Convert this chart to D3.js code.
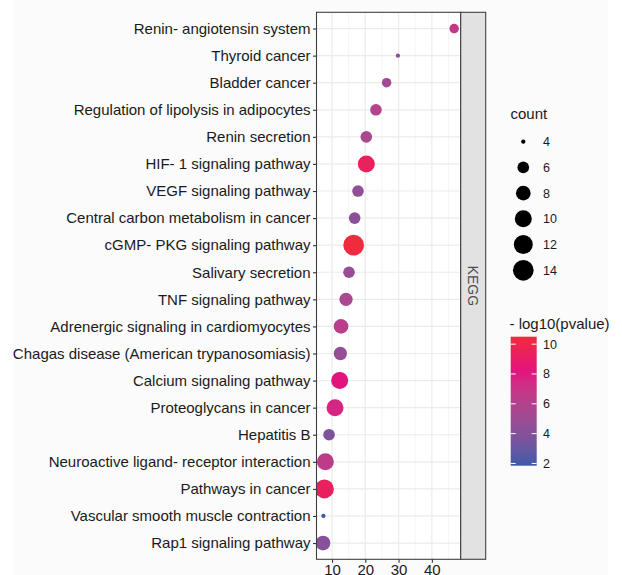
<!DOCTYPE html>
<html>
<head>
<meta charset="utf-8">
<script src="https://cdn.jsdelivr.net/npm/d3@7"></script>
<style>
  html, body { margin: 0; padding: 0; background: #ffffff; }
  svg { display: block; font-family: "Liberation Sans", Arial, Helvetica, sans-serif; }
</style>
</head>
<body>
<svg id="chart" width="622" height="575"></svg>
<script>
// KEGG pathway enrichment, top to bottom
const pathways = [
  "Renin- angiotensin system",
  "Thyroid cancer",
  "Bladder cancer",
  "Regulation of lipolysis in adipocytes",
  "Renin secretion",
  "HIF- 1 signaling pathway",
  "VEGF signaling pathway",
  "Central carbon metabolism in cancer",
  "cGMP- PKG signaling pathway",
  "Salivary secretion",
  "TNF signaling pathway",
  "Adrenergic signaling in cardiomyocytes",
  "Chagas disease (American trypanosomiasis)",
  "Calcium signaling pathway",
  "Proteoglycans in cancer",
  "Hepatitis B",
  "Neuroactive ligand- receptor interaction",
  "Pathways in cancer",
  "Vascular smooth muscle contraction",
  "Rap1 signaling pathway"
];
const enrichment = [46.7, 29.8, 26.4, 23.2, 20.3, 20.3, 17.8, 16.8, 16.5, 15.1,
                    14.2, 12.7, 12.5, 12.3, 10.9, 9.1, 8.0, 7.7, 7.4, 7.3];
const geneCount  = [5, 4, 5, 6, 6, 10, 6, 6, 14, 6,
                    7, 8, 7, 10, 10, 6, 10, 12, 4, 8];
const negLogP    = [6.6, 4.6, 5.3, 5.9, 5.6, 9.4, 4.5, 4.3, 10.5, 4.8,
                    5.5, 6.2, 4.7, 8.2, 7.6, 3.8, 6.4, 9.3, 1.85, 4.2];

const xTicks = [10, 20, 30, 40];
const countBreaks = [4, 6, 8, 10, 12, 14];
const pBreaks = [2, 4, 6, 8, 10];
const facetLabel = "KEGG";

const rows = pathways.map((p, i) => ({
  name: p, x: enrichment[i], count: geneCount[i], p: negLogP[i]
}));

const svg = d3.select("#chart");
const textColor = "#1a1a1a";
const font = "Liberation Sans, Arial, sans-serif";

// faint page background
svg.append("rect").attr("x", 13).attr("y", 0).attr("width", 595).attr("height", 575)
  .attr("fill", "#fbfbfb");

const panel = { left: 316.5, right: 460.7, top: 12.3, bottom: 559.3 };
const strip = { left: 460.7, right: 485.7 };

// scales
const xExt = d3.extent(enrichment);
const pad = (xExt[1] - xExt[0]) * 0.05;
const x = d3.scaleLinear().domain([xExt[0] - pad, xExt[1] + pad])
  .range([panel.left, panel.right]);
const y = d3.scalePoint().domain(pathways).range([panel.top, panel.bottom]).padding(0.6);

const cExt = d3.extent(geneCount);
const sizeSqrt = d3.scaleSqrt().domain([0, cExt[1] - cExt[0]]).range([0, 16.4]);
const diameter = c => 4.3 + sizeSqrt(c - cExt[0]);

const pExt = d3.extent(negLogP);
const color = d3.scaleLinear()
  .domain([pExt[0], 8.1, pExt[1]])
  .range(["#3a5ba9", "#e1127f", "#ef2b3d"])
  .interpolate(d3.interpolateLab);

// panel background and grid
svg.append("rect").attr("x", panel.left).attr("y", panel.top)
  .attr("width", panel.right - panel.left).attr("height", panel.bottom - panel.top)
  .attr("fill", "#ffffff");

svg.append("clipPath").attr("id", "panel-clip").append("rect")
  .attr("x", panel.left).attr("y", panel.top)
  .attr("width", panel.right - panel.left).attr("height", panel.bottom - panel.top);

const grid = svg.append("g");
const minorTicks = d3.range(5, 50, 10).filter(v => x(v) > panel.left && x(v) < panel.right);
grid.selectAll("line.minor").data(minorTicks).join("line")
  .attr("x1", d => x(d)).attr("x2", d => x(d))
  .attr("y1", panel.top).attr("y2", panel.bottom)
  .attr("stroke", "#f3f3f3").attr("stroke-width", 0.8);
grid.selectAll("line.majorx").data(xTicks).join("line")
  .attr("x1", d => x(d)).attr("x2", d => x(d))
  .attr("y1", panel.top).attr("y2", panel.bottom)
  .attr("stroke", "#ebebeb").attr("stroke-width", 1.2);
grid.selectAll("line.majory").data(pathways).join("line")
  .attr("x1", panel.left).attr("x2", panel.right)
  .attr("y1", d => y(d)).attr("y2", d => y(d))
  .attr("stroke", "#ebebeb").attr("stroke-width", 1.2);

// points
svg.append("g").attr("clip-path", "url(#panel-clip)")
  .selectAll("circle").data(rows).join("circle")
  .attr("cx", d => x(d.x)).attr("cy", d => y(d.name))
  .attr("r", d => diameter(d.count) / 2)
  .attr("fill", d => color(d.p));

// panel border
svg.append("rect").attr("x", panel.left).attr("y", panel.top)
  .attr("width", panel.right - panel.left).attr("height", panel.bottom - panel.top)
  .attr("fill", "none").attr("stroke", "#404040").attr("stroke-width", 1.1);

// facet strip
svg.append("rect").attr("x", strip.left).attr("y", panel.top)
  .attr("width", strip.right - strip.left).attr("height", panel.bottom - panel.top)
  .attr("fill", "#e2e2e2").attr("stroke", "#404040").attr("stroke-width", 1.1);
svg.append("text")
  .attr("transform", `translate(${(strip.left + strip.right) / 2},${(panel.top + panel.bottom) / 2}) rotate(90)`)
  .attr("text-anchor", "middle").attr("dy", "0.35em")
  .attr("font-size", 14).attr("fill", "#4d4d4d").text(facetLabel);

// axes
const yAxis = d3.axisLeft(y).tickSize(3.5).tickPadding(2.5);
const gy = svg.append("g").attr("transform", `translate(${panel.left},0)`).call(yAxis);
gy.select(".domain").remove();
gy.selectAll(".tick line").attr("stroke", "#333333").attr("stroke-width", 1.1);
gy.selectAll(".tick text").attr("font-size", 15).attr("fill", textColor)
  .attr("font-family", font);

const xAxis = d3.axisBottom(x).tickValues(xTicks).tickSize(3.5).tickPadding(2);
const gx = svg.append("g").attr("transform", `translate(0,${panel.bottom})`).call(xAxis);
gx.select(".domain").remove();
gx.selectAll(".tick line").attr("stroke", "#333333").attr("stroke-width", 1.1);
gx.selectAll(".tick text").attr("font-size", 15).attr("fill", textColor)
  .attr("font-family", font);

// size legend
const sizeLeg = svg.append("g");
sizeLeg.append("text").attr("x", 510.5).attr("y", 119).attr("font-size", 15)
  .attr("fill", textColor).text("count");
const keyY = d3.scalePoint().domain(countBreaks).range([141.7, 270.3]);
sizeLeg.selectAll("circle").data(countBreaks).join("circle")
  .attr("cx", 523.3).attr("cy", d => keyY(d)).attr("r", d => diameter(d) / 2)
  .attr("fill", "#000000");
sizeLeg.selectAll("text.lab").data(countBreaks).join("text").attr("class", "lab")
  .attr("x", 543).attr("y", d => keyY(d)).attr("dy", "0.35em")
  .attr("font-size", 12.5).attr("fill", textColor).text(d => d);

// colour bar legend
const bar = { x: 510.7, w: 26, top: 336.7, bottom: 465.7 };
const barY = d3.scaleLinear().domain(pExt).range([bar.bottom, bar.top]);
const colLeg = svg.append("g");
colLeg.append("text").attr("x", 509.5).attr("y", 329).attr("font-size", 15)
  .attr("fill", textColor).text("- log10(pvalue)");
const grad = svg.append("defs").append("linearGradient").attr("id", "pgrad")
  .attr("x1", 0).attr("x2", 0).attr("y1", 1).attr("y2", 0);
d3.range(0, 1.0001, 0.05).forEach(t => {
  grad.append("stop").attr("offset", t)
    .attr("stop-color", color(pExt[0] + t * (pExt[1] - pExt[0])));
});
colLeg.append("rect").attr("x", bar.x).attr("y", bar.top)
  .attr("width", bar.w).attr("height", bar.bottom - bar.top).attr("fill", "url(#pgrad)");
colLeg.selectAll("line.l").data(pBreaks).join("line")
  .attr("x1", bar.x).attr("x2", bar.x + 5)
  .attr("y1", d => barY(d)).attr("y2", d => barY(d))
  .attr("stroke", "#ffffff").attr("stroke-width", 1);
colLeg.selectAll("line.r").data(pBreaks).join("line")
  .attr("x1", bar.x + bar.w - 5).attr("x2", bar.x + bar.w)
  .attr("y1", d => barY(d)).attr("y2", d => barY(d))
  .attr("stroke", "#ffffff").attr("stroke-width", 1);
colLeg.selectAll("text.lab").data(pBreaks).join("text").attr("class", "lab")
  .attr("x", 543).attr("y", d => barY(d)).attr("dy", "0.35em")
  .attr("font-size", 12.5).attr("fill", textColor).text(d => d);
</script>
</body>
</html>
